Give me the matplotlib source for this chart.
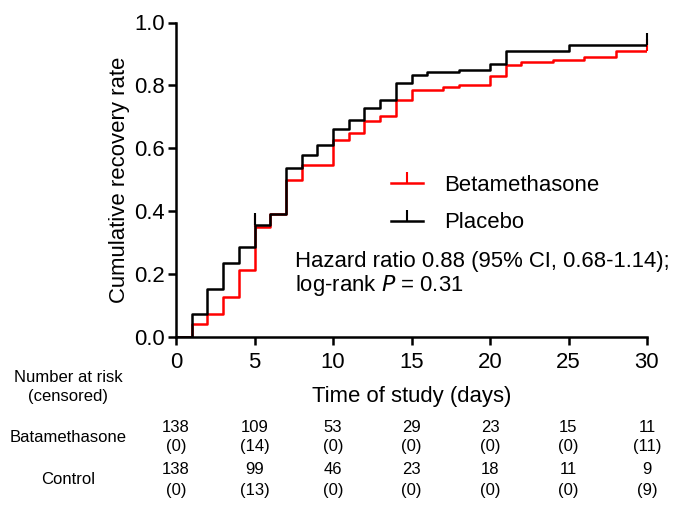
import matplotlib
matplotlib.use("Agg")
import matplotlib.pyplot as plt
from matplotlib.path import Path
from matplotlib.lines import Line2D

plt.rcParams['font.family'] = ['Liberation Sans', 'DejaVu Sans']

# Data
beta_days = [0, 1, 2, 3, 4, 5, 6, 7, 8, 10, 11, 12, 13, 14, 15, 17, 18, 20, 21, 22, 24, 26, 28, 30]
beta_vals = [0, 0.040, 0.074, 0.127, 0.214, 0.350, 0.390, 0.498, 0.548, 0.625, 0.649, 0.686,
             0.704, 0.755, 0.786, 0.794, 0.802, 0.831, 0.866, 0.874, 0.880, 0.889, 0.908, 0.908]
plac_days = [0, 1, 2, 3, 4, 5, 6, 7, 8, 9, 10, 11, 12, 13, 14, 15, 16, 18, 20, 21, 25, 30]
plac_vals = [0, 0.074, 0.154, 0.235, 0.285, 0.357, 0.392, 0.537, 0.580, 0.611, 0.662, 0.689,
             0.728, 0.755, 0.808, 0.834, 0.843, 0.850, 0.868, 0.908, 0.929, 0.929]
beta_censor_days = [5, 30]
beta_censor_vals = [0.350, 0.908]
plac_censor_days = [5, 30]
plac_censor_vals = [0.357, 0.929]

risk_times = [0, 5, 10, 15, 20, 25, 30]
beta_risk = [138, 109, 53, 29, 23, 15, 11]
beta_cens = [0, 14, 0, 0, 0, 0, 11]
ctrl_risk = [138, 99, 46, 23, 18, 11, 9]
ctrl_cens = [0, 13, 0, 0, 0, 0, 9]

RED = '#ff0000'
BLACK = '#000000'
FS = 15.9
FS_T = 12

fig = plt.figure(figsize=(6.74, 5.09), dpi=100)
ax = fig.add_axes([176/674, 1 - 337/509, (647-176)/674, (337-22.5)/509])

ax.step(beta_days, beta_vals, where='post', color=RED, lw=1.8, zorder=2)
ax.step(plac_days, plac_vals, where='post', color=BLACK, lw=1.8, zorder=3)

tick_marker = Path([(0, 0), (0, 1)])
ax.plot(beta_censor_days, beta_censor_vals, ls='none', marker=tick_marker, ms=18,
        mec=RED, mew=1.5, clip_on=False, zorder=2)
ax.plot(plac_censor_days, plac_censor_vals, ls='none', marker=tick_marker, ms=18,
        mec=BLACK, mew=1.5, clip_on=False, zorder=3)

ax.set_xlim(0, 30)
ax.set_ylim(0, 1.0)
ax.set_xticks([0, 5, 10, 15, 20, 25, 30])
ax.set_yticks([0, 0.2, 0.4, 0.6, 0.8, 1.0])
ax.set_yticklabels(['0.0', '0.2', '0.4', '0.6', '0.8', '1.0'])
for s in ['top', 'right']:
    ax.spines[s].set_visible(False)
for s in ['left', 'bottom']:
    ax.spines[s].set_linewidth(1.8)
ax.tick_params(axis='both', direction='out', length=6, width=1.8, labelsize=FS)
ax.tick_params(axis='x', pad=5)
ax.tick_params(axis='y', pad=2)
ax.set_ylabel('Cumulative recovery rate', fontsize=FS, labelpad=3)
ax.set_xlabel('Time of study (days)', fontsize=FS, labelpad=9)

handles = [Line2D([0], [0], color=RED, lw=1.8, marker=tick_marker, ms=16, mew=1.5),
           Line2D([0], [0], color=BLACK, lw=1.8, marker=tick_marker, ms=16, mew=1.5)]
ax.legend(handles, ['Betamethasone', 'Placebo'], loc='center left',
          bbox_to_anchor=((371-176)/471, (337-204)/314.5), frameon=False,
          fontsize=FS, handlelength=1.45, numpoints=1, labelspacing=0.75, handletextpad=0.95)

def fx(px):
    return px / 674

def fy(py):
    return 1 - py / 509

fig.text(fx(295), fy(261), 'Hazard ratio 0.88 (95% CI, 0.68-1.14);', fontsize=FS,
         va='center', ha='left')
fig.text(fx(295), fy(285), r'log-rank $\mathit{P}$ = 0.31', fontsize=FS, va='center',
         ha='left')

# Number at risk table
fig.text(fx(68), fy(377), 'Number at risk', fontsize=FS_T, ha='center', va='center')
fig.text(fx(68), fy(397), '(censored)', fontsize=FS_T, ha='center', va='center')
fig.text(fx(68), fy(437), 'Batamethasone', fontsize=FS_T, ha='center', va='center')
fig.text(fx(68), fy(480), 'Control', fontsize=FS_T, ha='center', va='center')

for t, n, c in zip(risk_times, beta_risk, beta_cens):
    xd = ax.transData.transform((t, 0))[0]
    fig.text(xd / fig.bbox.width, fy(428), str(n), fontsize=FS_T, ha='center', va='center')
    fig.text(xd / fig.bbox.width, fy(447), f'({c})', fontsize=FS_T, ha='center', va='center')
for t, n, c in zip(risk_times, ctrl_risk, ctrl_cens):
    xd = ax.transData.transform((t, 0))[0]
    fig.text(xd / fig.bbox.width, fy(470), str(n), fontsize=FS_T, ha='center', va='center')
    fig.text(xd / fig.bbox.width, fy(490), f'({c})', fontsize=FS_T, ha='center', va='center')

fig.savefig('out.png', dpi=100)
